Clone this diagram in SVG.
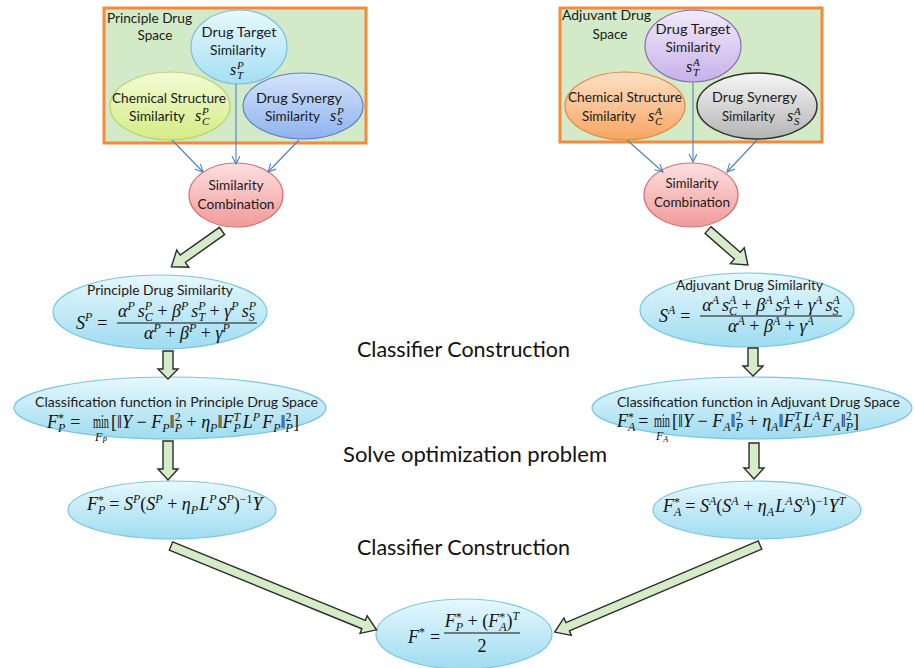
<svg xmlns="http://www.w3.org/2000/svg" width="914" height="668" viewBox="0 0 914 668">
<defs>
<linearGradient id="gBlue" x1="0" y1="0" x2="0" y2="1"><stop offset="0" stop-color="#e6f8fd"/><stop offset="1" stop-color="#9fdcf1"/></linearGradient>
<linearGradient id="gTgtP" x1="0" y1="0" x2="0" y2="1"><stop offset="0" stop-color="#e8f9fe"/><stop offset="1" stop-color="#a4def3"/></linearGradient>
<linearGradient id="gChemP" x1="0" y1="0" x2="0" y2="1"><stop offset="0" stop-color="#f4fbd6"/><stop offset="1" stop-color="#d3ec84"/></linearGradient>
<linearGradient id="gSynP" x1="0" y1="0" x2="0" y2="1"><stop offset="0" stop-color="#d6e4fa"/><stop offset="1" stop-color="#8fb2ee"/></linearGradient>
<linearGradient id="gTgtA" x1="0" y1="0" x2="0" y2="1"><stop offset="0" stop-color="#f1eafb"/><stop offset="1" stop-color="#c7b1ea"/></linearGradient>
<linearGradient id="gChemA" x1="0" y1="0" x2="0" y2="1"><stop offset="0" stop-color="#fde0c6"/><stop offset="1" stop-color="#f7a662"/></linearGradient>
<linearGradient id="gSynA" x1="0" y1="0" x2="0" y2="1"><stop offset="0" stop-color="#f6f6f6"/><stop offset="1" stop-color="#b4b4b4"/></linearGradient>
<linearGradient id="gComb" x1="0" y1="0" x2="0" y2="1"><stop offset="0" stop-color="#fde0e0"/><stop offset="1" stop-color="#f19a9a"/></linearGradient>
<marker id="open" markerWidth="10" markerHeight="10" refX="8" refY="4" orient="auto" markerUnits="userSpaceOnUse">
<path d="M0,0 L8,4 L0,8" fill="none" stroke="#4f81bd" stroke-width="1.1"/>
</marker>
<style>
.box{fill:#d2eac8;stroke:#f58a3c;stroke-width:3}
.lbl{font-family:Lato,"Open Sans","Liberation Sans",sans-serif;font-size:13.5px;fill:#1a1a1a}
.big{font-family:Lato,"Open Sans","Liberation Sans",sans-serif;font-size:21px;fill:#111}
.m{font-family:"Liberation Serif","DejaVu Serif",serif;font-style:italic;font-size:18px;fill:#111}
.sm{font-family:"Liberation Serif","DejaVu Serif",serif;font-style:italic;font-size:16px;fill:#111}
.s{font-size:12px}
.ss{font-size:11px}
.u{font-style:normal}
.fe{fill:url(#gBlue);stroke:#7ac6e0;stroke-width:1.2}
.conn{stroke:#4f81bd;stroke-width:1.1;fill:none;marker-end:url(#open)}
.blk{fill:#d5ecc8;stroke:#2b2b2b;stroke-width:1.4;stroke-linejoin:miter}
.bar{stroke:#111;stroke-width:1}
</style>
</defs>
<rect width="914" height="668" fill="#ffffff"/>

<g id="principle-space">
<rect class="box" x="104" y="8" width="262" height="135"/>
<text class="lbl" x="107" y="23" textLength="85" lengthAdjust="spacingAndGlyphs">Principle Drug</text>
<text class="lbl" x="155" y="40" text-anchor="middle">Space</text>
</g>
<g id="p-target">
<ellipse cx="239" cy="47" rx="48" ry="37" fill="url(#gTgtP)" stroke="#78bfdc" stroke-width="1.2"/>
<text class="lbl" x="239" y="37" text-anchor="middle" textLength="75" lengthAdjust="spacingAndGlyphs">Drug Target</text>
<text class="lbl" x="238" y="55" text-anchor="middle" textLength="56" lengthAdjust="spacingAndGlyphs">Similarity</text>
<text class="sm"><tspan x="230" y="75">s</tspan><tspan class="ss" x="237" y="69">P</tspan><tspan class="ss" x="237" y="79">T</tspan></text>
</g>
<g id="p-chem">
<ellipse cx="170" cy="106" rx="60" ry="34" fill="url(#gChemP)" stroke="#b6d36a" stroke-width="1.2"/>
<text class="lbl" x="169" y="103" text-anchor="middle" textLength="114" lengthAdjust="spacingAndGlyphs">Chemical Structure</text>
<text class="lbl" x="129" y="121" textLength="56" lengthAdjust="spacingAndGlyphs">Similarity</text>
<text class="sm"><tspan x="195" y="121">s</tspan><tspan class="ss" x="202" y="115">P</tspan><tspan class="ss" x="202" y="125">C</tspan></text>
</g>
<g id="p-syn">
<ellipse cx="303" cy="106" rx="60" ry="33" fill="url(#gSynP)" stroke="#5b83c9" stroke-width="1.2"/>
<text class="lbl" x="299" y="103" text-anchor="middle" textLength="86" lengthAdjust="spacingAndGlyphs">Drug Synergy</text>
<text class="lbl" x="265" y="121" textLength="55" lengthAdjust="spacingAndGlyphs">Similarity</text>
<text class="sm"><tspan x="330" y="121">s</tspan><tspan class="ss" x="337" y="115">P</tspan><tspan class="ss" x="337" y="125">S</tspan></text>
</g>

<g id="adjuvant-space">
<rect class="box" x="560" y="8" width="262" height="134"/>
<text class="lbl" x="562" y="20" textLength="89" lengthAdjust="spacingAndGlyphs">Adjuvant Drug</text>
<text class="lbl" x="610" y="39" text-anchor="middle">Space</text>
</g>
<g id="a-target">
<ellipse cx="693" cy="46" rx="48" ry="36" fill="url(#gTgtA)" stroke="#8a6bb0" stroke-width="1.2"/>
<text class="lbl" x="693" y="34" text-anchor="middle" textLength="75" lengthAdjust="spacingAndGlyphs">Drug Target</text>
<text class="lbl" x="693" y="52" text-anchor="middle" textLength="55" lengthAdjust="spacingAndGlyphs">Similarity</text>
<text class="sm"><tspan x="686" y="72">s</tspan><tspan class="ss" x="693" y="66">A</tspan><tspan class="ss" x="693" y="76">T</tspan></text>
</g>
<g id="a-chem">
<ellipse cx="625" cy="106" rx="60" ry="34" fill="url(#gChemA)" stroke="#e8873f" stroke-width="1.2"/>
<text class="lbl" x="625" y="102" text-anchor="middle" textLength="114" lengthAdjust="spacingAndGlyphs">Chemical Structure</text>
<text class="lbl" x="582" y="121" textLength="54" lengthAdjust="spacingAndGlyphs">Similarity</text>
<text class="sm"><tspan x="648" y="121">s</tspan><tspan class="ss" x="655" y="115">A</tspan><tspan class="ss" x="655" y="125">C</tspan></text>
</g>
<g id="a-syn">
<ellipse cx="757" cy="106" rx="60" ry="33" fill="url(#gSynA)" stroke="#333333" stroke-width="1.5"/>
<text class="lbl" x="754.5" y="102" text-anchor="middle" textLength="85" lengthAdjust="spacingAndGlyphs">Drug Synergy</text>
<text class="lbl" x="722" y="121" textLength="53" lengthAdjust="spacingAndGlyphs">Similarity</text>
<text class="sm"><tspan x="787" y="121">s</tspan><tspan class="ss" x="794" y="115">A</tspan><tspan class="ss" x="794" y="125">S</tspan></text>
</g>

<g id="p-combination">
<ellipse cx="236" cy="195" rx="47" ry="32" fill="url(#gComb)" stroke="#d8706f" stroke-width="1.2"/>
<text class="lbl" x="236" y="190" text-anchor="middle" textLength="55" lengthAdjust="spacingAndGlyphs">Similarity</text>
<text class="lbl" x="236" y="209" text-anchor="middle" textLength="77" lengthAdjust="spacingAndGlyphs">Combination</text>
</g>
<g id="a-combination">
<ellipse cx="691" cy="195" rx="47" ry="32" fill="url(#gComb)" stroke="#d8706f" stroke-width="1.2"/>
<text class="lbl" x="692" y="188" text-anchor="middle" textLength="53" lengthAdjust="spacingAndGlyphs">Similarity</text>
<text class="lbl" x="692" y="207" text-anchor="middle" textLength="76" lengthAdjust="spacingAndGlyphs">Combination</text>
</g>

<g id="p-similarity">
<ellipse class="fe" cx="160" cy="312" rx="107" ry="37"/>
<text class="lbl" x="160" y="295" text-anchor="middle" textLength="146" lengthAdjust="spacingAndGlyphs">Principle Drug Similarity</text>
<text class="m" x="76" y="329" font-size="20">S<tspan class="s" dy="-8">P</tspan><tspan class="u" dx="5" dy="8">=</tspan></text>
<text class="m" x="187" y="317" text-anchor="middle">α<tspan class="s" dy="-7">P</tspan><tspan dx="3" dy="7">s</tspan><tspan class="s" dy="-7">P</tspan><tspan class="s" dx="-7.3" dy="11">C</tspan><tspan class="u" dy="-4"> + </tspan>β<tspan class="s" dy="-7">P</tspan><tspan dx="3" dy="7">s</tspan><tspan class="s" dy="-7">P</tspan><tspan class="s" dx="-7.3" dy="11">T</tspan><tspan class="u" dy="-4"> + </tspan>γ<tspan class="s" dy="-7">P</tspan><tspan dx="3" dy="7">s</tspan><tspan class="s" dy="-7">P</tspan><tspan class="s" dx="-7.3" dy="11">S</tspan></text>
<line class="bar" x1="117" y1="323" x2="257" y2="323"/>
<text class="m" x="187" y="339" text-anchor="middle">α<tspan class="s" dy="-7">P</tspan><tspan class="u" dy="7"> + </tspan>β<tspan class="s" dy="-7">P</tspan><tspan class="u" dy="7"> + </tspan>γ<tspan class="s" dy="-7">P</tspan></text>
</g>

<g id="a-similarity">
<ellipse class="fe" cx="747" cy="310" rx="107" ry="37"/>
<text class="lbl" x="749.5" y="290" text-anchor="middle" textLength="147" lengthAdjust="spacingAndGlyphs">Adjuvant Drug Similarity</text>
<text class="m" x="659" y="322" font-size="20">S<tspan class="s" dy="-8">A</tspan><tspan class="u" dx="5" dy="8">=</tspan></text>
<text class="m" x="771" y="311" text-anchor="middle">α<tspan class="s" dy="-7">A</tspan><tspan dx="3" dy="7">s</tspan><tspan class="s" dy="-7">A</tspan><tspan class="s" dx="-7.3" dy="11">C</tspan><tspan class="u" dy="-4"> + </tspan>β<tspan class="s" dy="-7">A</tspan><tspan dx="3" dy="7">s</tspan><tspan class="s" dy="-7">A</tspan><tspan class="s" dx="-7.3" dy="11">T</tspan><tspan class="u" dy="-4"> + </tspan>γ<tspan class="s" dy="-7">A</tspan><tspan dx="3" dy="7">s</tspan><tspan class="s" dy="-7">A</tspan><tspan class="s" dx="-7.3" dy="11">S</tspan></text>
<line class="bar" x1="700" y1="316" x2="842" y2="316"/>
<text class="m" x="771" y="332" text-anchor="middle">α<tspan class="s" dy="-7">A</tspan><tspan class="u" dy="7"> + </tspan>β<tspan class="s" dy="-7">A</tspan><tspan class="u" dy="7"> + </tspan>γ<tspan class="s" dy="-7">A</tspan></text>
</g>

<g id="p-classification">
<ellipse class="fe" cx="170" cy="408" rx="156" ry="31"/>
<text class="lbl" x="35" y="407" textLength="283" lengthAdjust="spacingAndGlyphs">Classification function in Principle Drug Space</text>
<text class="m" x="47" y="428">F<tspan class="s u" dy="-6">*</tspan><tspan class="s" dx="-6" dy="10">P</tspan><tspan class="u" dx="5" dy="-4">=</tspan></text>
<text class="m u" x="93" y="428" font-size="14" textLength="16" lengthAdjust="spacingAndGlyphs">min</text>
<text class="m s" x="95" y="441">F<tspan font-size="8" dy="2">P</tspan></text>
<text class="m" x="111" y="428"><tspan class="u">[‖</tspan>Y<tspan class="u"> − </tspan>F<tspan class="s" dy="4">P</tspan><tspan class="u" dy="-4">‖</tspan><tspan class="s u" dy="-7">2</tspan><tspan class="s" dx="-6" dy="11">P</tspan><tspan class="u" dy="-4"> + </tspan>η<tspan class="s" dy="4">P</tspan><tspan class="u" dy="-4">‖</tspan>F<tspan class="s" dy="-7">T</tspan><tspan class="s" dx="-6.7" dy="11">P</tspan><tspan dx="2" dy="-4">L</tspan><tspan class="s" dy="-7">P</tspan><tspan dx="2" dy="7">F</tspan><tspan class="s" dy="4">P</tspan><tspan class="u" dy="-4">‖</tspan><tspan class="s u" dy="-7">2</tspan><tspan class="s" dx="-6" dy="11">P</tspan><tspan class="u" dy="-4">]</tspan></text>
</g>

<g id="a-classification">
<ellipse class="fe" cx="752" cy="408" rx="160" ry="31"/>
<text class="lbl" x="617" y="407" textLength="283" lengthAdjust="spacingAndGlyphs">Classification function in Adjuvant Drug Space</text>
<text class="m" x="617" y="427">F<tspan class="s u" dy="-6">*</tspan><tspan class="s" dx="-6" dy="10">A</tspan><tspan class="u" dx="3" dy="-4">=</tspan></text>
<text class="m u" x="654" y="427" font-size="14" textLength="16" lengthAdjust="spacingAndGlyphs">min</text>
<text class="m s" x="656" y="440">F<tspan font-size="8" dy="2">A</tspan></text>
<text class="m" x="672" y="427"><tspan class="u">[‖</tspan>Y<tspan class="u"> − </tspan>F<tspan class="s" dy="4">A</tspan><tspan class="u" dy="-4">‖</tspan><tspan class="s u" dy="-7">2</tspan><tspan class="s" dx="-6" dy="11">P</tspan><tspan class="u" dy="-4"> + </tspan>η<tspan class="s" dy="4">A</tspan><tspan class="u" dy="-4">‖</tspan>F<tspan class="s" dy="-7">T</tspan><tspan class="s" dx="-6.7" dy="11">A</tspan><tspan dx="2" dy="-4">L</tspan><tspan class="s" dy="-7">A</tspan><tspan dx="2" dy="7">F</tspan><tspan class="s" dy="4">A</tspan><tspan class="u" dy="-4">‖</tspan><tspan class="s u" dy="-7">2</tspan><tspan class="s" dx="-6" dy="11">P</tspan><tspan class="u" dy="-4">]</tspan></text>
</g>

<g id="p-solution">
<ellipse class="fe" cx="172" cy="510" rx="104" ry="29"/>
<text class="m" x="87" y="510">F<tspan class="s u" dy="-6">*</tspan><tspan class="s" dx="-6" dy="10">P</tspan><tspan class="u" dx="4" dy="-4">= </tspan>S<tspan class="s" dy="-7">P</tspan><tspan class="u" dy="7">(</tspan>S<tspan class="s" dy="-7">P</tspan><tspan class="u" dy="7"> + </tspan>η<tspan class="s" dy="4">P</tspan><tspan dx="1" dy="-4">L</tspan><tspan class="s" dy="-7">P</tspan><tspan dx="1" dy="7">S</tspan><tspan class="s" dy="-7">P</tspan><tspan class="u" dy="7">)</tspan><tspan class="s u" dy="-7">−1</tspan><tspan dy="7">Y</tspan></text>
</g>

<g id="a-solution">
<ellipse class="fe" cx="757" cy="510" rx="104" ry="29"/>
<text class="m" x="663" y="512">F<tspan class="s u" dy="-6">*</tspan><tspan class="s" dx="-6" dy="10">A</tspan><tspan class="u" dx="4" dy="-4">= </tspan>S<tspan class="s" dy="-7">A</tspan><tspan class="u" dy="7">(</tspan>S<tspan class="s" dy="-7">A</tspan><tspan class="u" dy="7"> + </tspan>η<tspan class="s" dy="4">A</tspan><tspan dx="1" dy="-4">L</tspan><tspan class="s" dy="-7">A</tspan><tspan dx="1" dy="7">S</tspan><tspan class="s" dy="-7">A</tspan><tspan class="u" dy="7">)</tspan><tspan class="s u" dy="-7">−1</tspan><tspan dy="7">Y</tspan><tspan class="s" dy="-7">T</tspan></text>
</g>

<g id="final">
<ellipse class="fe" cx="464" cy="634" rx="88" ry="35"/>
<text class="m" x="408" y="643">F<tspan class="s u" dy="-7">*</tspan><tspan class="u" dx="5" dy="7">=</tspan></text>
<text class="m" x="482" y="627" text-anchor="middle">F<tspan class="s u" dy="-6">*</tspan><tspan class="s" dx="-6" dy="10">P</tspan><tspan class="u" dy="-4"> + (</tspan>F<tspan class="s u" dy="-6">*</tspan><tspan class="s" dx="-6" dy="10">A</tspan><tspan class="u" dy="-4">)</tspan><tspan class="s" dy="-7">T</tspan></text>
<line class="bar" x1="444" y1="633" x2="520" y2="633"/>
<text class="m u" x="482" y="652" text-anchor="middle">2</text>
</g>

<g id="stage-labels">
<text class="big" x="357" y="357" textLength="213" lengthAdjust="spacingAndGlyphs">Classifier Construction</text>
<text class="big" x="343" y="462" textLength="264" lengthAdjust="spacingAndGlyphs">Solve optimization problem</text>
<text class="big" x="357" y="555" textLength="213" lengthAdjust="spacingAndGlyphs">Classifier Construction</text>
</g>

<g id="connectors">
<line class="conn" x1="172" y1="140" x2="203" y2="172"/>
<line class="conn" x1="236" y1="84" x2="236" y2="164"/>
<line class="conn" x1="299" y1="140" x2="268" y2="172"/>
<line class="conn" x1="627" y1="140" x2="663" y2="172"/>
<line class="conn" x1="693" y1="82" x2="693" y2="162"/>
<line class="conn" x1="757" y1="140" x2="727" y2="172"/>
<path class="blk" transform="translate(222,231) rotate(144.8)" d="M0,-4.5 H48 V-10.5 L62,0 L48,10.5 V4.5 H0 Z"/>
<path class="blk" transform="translate(708,230) rotate(41.2)" d="M0,-4.5 H39 V-10.5 L53,0 L39,10.5 V4.5 H0 Z"/>
<path class="blk" transform="translate(168,351) rotate(90)" d="M0,-5 H18 V-10 L28,0 L18,10 V5 H0 Z"/>
<path class="blk" transform="translate(168,441) rotate(90)" d="M0,-5 H28 V-10 L39,0 L28,10 V5 H0 Z"/>
<path class="blk" transform="translate(753,348) rotate(90)" d="M0,-5 H18 V-10 L28,0 L18,10 V5 H0 Z"/>
<path class="blk" transform="translate(754,443) rotate(90)" d="M0,-5 H25 V-10 L36,0 L25,10 V5 H0 Z"/>
<path class="blk" transform="translate(171,546) rotate(22.2)" d="M0,-4.5 H208 V-9.5 L222,0 L208,9.5 V4.5 H0 Z"/>
<path class="blk" transform="translate(760,545) rotate(157)" d="M0,-4.5 H209 V-9.5 L223,0 L209,9.5 V4.5 H0 Z"/>
</g>
</svg>
